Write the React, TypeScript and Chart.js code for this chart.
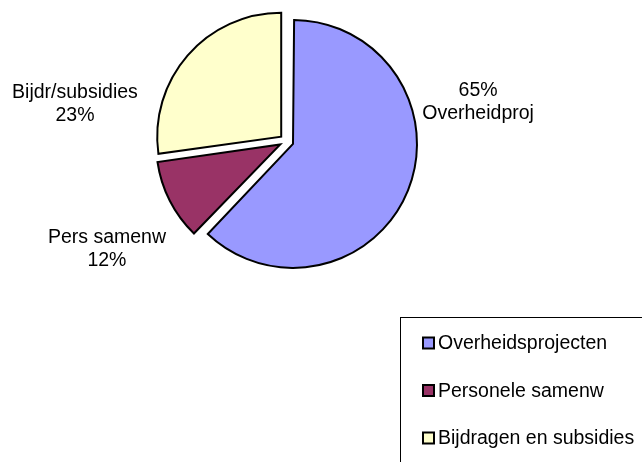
import React, { useEffect, useRef } from "react";
import { Chart, registerables } from "chart.js";

Chart.register(...registerables);

const categories = ["Overheidsprojecten", "Personele samenw", "Bijdragen en subsidies"];
const shortLabels = ["Overheidproj", "Pers samenw", "Bijdr/subsidies"];
const percentLabels = ["65%", "12%", "23%"];
const values = [62.2, 10.6, 27.2];
const colors = ["#9999FF", "#993366", "#FFFFCC"];

const FONT = '19.5px "Liberation Sans", Arial, sans-serif';
const RADIUS = 124;
const OFFSET = 28; // chart.js translates by offset/4

const fixRadiusPlugin = {
  id: "fixRadius",
  beforeDatasetsDraw(chart: any) {
    const meta = chart.getDatasetMeta(0);
    meta.data.forEach((arc: any) => {
      const circ = arc.circumference;
      const fix = 1 - Math.sin(Math.min(Math.PI, circ || 0));
      arc.outerRadius = RADIUS - (OFFSET / 4) * fix;
    });
  },
};

const labelsPlugin = {
  id: "pieLabels",
  afterDraw(chart: any) {
    const ctx = chart.ctx;
    const meta = chart.getDatasetMeta(0);
    const arc0 = meta.data[0];
    const cx = arc0.x;
    const cy = arc0.y;
    const R = RADIUS;
    // label anchors relative to pie centre, in radius units
    const anchors = [
      { dx: 1.545, dy: -0.315, pctFirst: true },
      { dx: -1.448, dy: 0.869, pctFirst: false },
      { dx: -1.706, dy: -0.297, pctFirst: false },
    ];
    ctx.save();
    ctx.font = FONT;
    ctx.fillStyle = "#000";
    ctx.textAlign = "center";
    ctx.textBaseline = "middle";
    const lineGap = 23;
    anchors.forEach((a, i) => {
      const x = cx + a.dx * R;
      const y = cy + a.dy * R;
      const lines = a.pctFirst ? [percentLabels[i], shortLabels[i]] : [shortLabels[i], percentLabels[i]];
      ctx.fillText(lines[0], x, y - lineGap / 2);
      ctx.fillText(lines[1], x, y + lineGap / 2);
    });

    // legend box
    const bx = 400, by = 317;
    ctx.strokeStyle = "#000";
    ctx.lineWidth = 1;
    ctx.strokeRect(bx + 0.5, by + 0.5, 400, 300);
    ctx.textAlign = "left";
    categories.forEach((c, i) => {
      const yc = 343 + i * 47.5;
      ctx.fillStyle = colors[i];
      ctx.fillRect(423, yc - 5.5, 11, 11);
      ctx.lineWidth = 2;
      ctx.strokeStyle = "#000";
      ctx.strokeRect(423, yc - 5.5, 11, 11);
      ctx.fillStyle = "#000";
      ctx.fillText(c, 438, yc + 1);
    });
    ctx.restore();
  },
};

export default function App() {
  const ref = useRef<HTMLCanvasElement | null>(null);
  useEffect(() => {
    if (!ref.current) return;
    const chart = new Chart(ref.current, {
      type: "pie",
      data: {
        labels: categories,
        datasets: [
          {
            data: values,
            backgroundColor: colors,
            borderColor: "#000",
            borderWidth: 2,
            borderJoinStyle: "miter",
            offset: OFFSET,
            hoverOffset: OFFSET,
          } as any,
        ],
      },
      options: {
        responsive: false,
        animation: false,
        radius: RADIUS,
        layout: { padding: { left: 0, right: 69, top: 0, bottom: 179.4 } },
        plugins: { legend: { display: false }, tooltip: { enabled: false } },
        events: [],
      } as any,
      plugins: [fixRadiusPlugin, labelsPlugin],
    });
    return () => chart.destroy();
  }, []);
  return (
    <div style={{ position: "absolute", left: 0, top: 0, width: 642, height: 462, background: "#fff" }}>
      <canvas ref={ref} width={642} height={462} />
    </div>
  );
}
